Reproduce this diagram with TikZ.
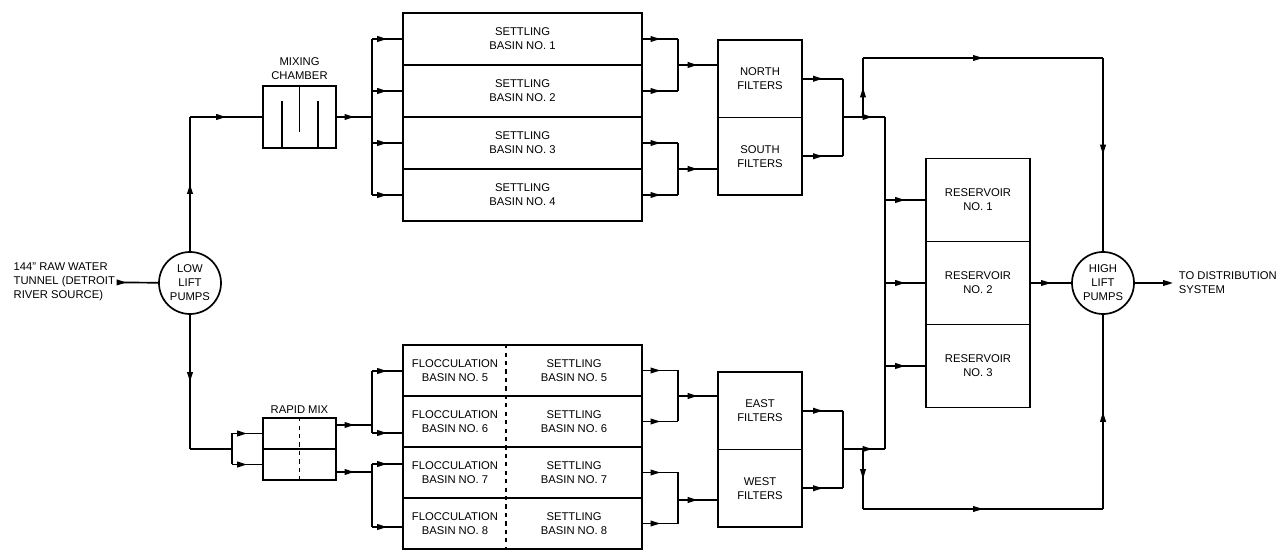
\documentclass[tikz,border=0pt]{standalone}
\usepackage{fontspec}
\setmainfont{Liberation Sans}
\usetikzlibrary{positioning, arrows.meta, decorations.markings, calc}

\begin{document}
\begin{tikzpicture}[
        x=0.025cm, y=-0.025cm,
        line width=1.2pt,
        font=\fontsize{8}{10}\selectfont,
        basin/.style={
            draw, minimum width=5.975cm, minimum height=1.3cm,
            inner sep=0pt, align=center
        },
        filt/.style={
            draw, minimum width=2.1cm, minimum height=1.9375cm,
            inner sep=0pt, align=center
        },
        resv/.style={
            draw, minimum width=2.6cm, minimum height=2.075cm,
            inner sep=0pt, align=center
        },
        pump/.style={
            draw, circle, minimum size=1.55cm, inner sep=0pt, align=center
        },
        mixbox/.style={draw, minimum width=1.825cm, minimum height=1.55cm},
        rapid/.style={draw, minimum width=1.825cm, minimum height=0.775cm},
        lbl/.style={align=center, inner sep=1pt},
        flow/.style={postaction={decorate, decoration={markings,
            mark=at position #1 with {\arrow{Triangle[length=7pt, width=4pt]}}}}},
        flow/.default=0.5
    ]
    \useasboundingbox (0,0) rectangle (1278,550);

    % pumps and source
    \node[pump] (lowpump) at (190,283) {LOW\\LIFT\\PUMPS};
    \node[pump] (highpump) at (1103,283) {HIGH\\LIFT\\PUMPS};
    \node[align=left, anchor=west, inner sep=2pt] (src) at (10,282) {144'' RAW WATER\\TUNNEL (DETROIT\\RIVER SOURCE)};
    \node[align=left, anchor=west, inner sep=0pt] (dist) at (1178,283) {TO DISTRIBUTION\\SYSTEM};

    % mixing
    \node[mixbox] (mix) at (299.5,117) {};
    \node[lbl, above=2pt of mix] (mixlbl) {MIXING\\CHAMBER};
    \draw (mix.south) ++(-17.5,0) -- ++(0,-48);
    \draw (mix.south) ++(18.5,0) -- ++(0,-48);
    \draw (mix.north) -- ++(0,47);
    \node[rapid] (rm1) at (299.5,433.5) {};
    \node[rapid] (rm2) at (299.5,464.5) {};
    \node[lbl, above=1pt of rm1] (rmlbl) {RAPID MIX};
    \draw[dashed] (rm1.north) -- (rm2.south);

    % basins
    \foreach \i in {1,...,4}
        \node[basin] (sb\i) at (522.5,{39+52*(\i-1)}) {SETTLING\\BASIN NO. \i};
    \foreach \i in {5,...,8} {
        \node[basin, minimum height=1.275cm] (sb\i) at (522.5,{370.5+51*(\i-5)}) {};
        \node[lbl] (fl\i) at (455,{370.5+51*(\i-5)}) {FLOCCULATION\\BASIN NO. \i};
        \node[lbl] (st\i) at (574,{370.5+51*(\i-5)}) {SETTLING\\BASIN NO. \i};
    }
    \draw[dashed] ($(sb5.north west)+(104,0)$) -- ($(sb8.south west)+(104,0)$);

    % filters and reservoirs
    \node[filt] (north) at (760,78.75) {NORTH\\FILTERS};
    \node[filt] (south) at (760,156.25) {SOUTH\\FILTERS};
    \node[filt] (east) at (760,410.75) {EAST\\FILTERS};
    \node[filt] (west) at (760,488.25) {WEST\\FILTERS};
    \node[resv] (res1) at (978,200) {RESERVOIR\\NO. 1};
    \node[resv] (res2) at (978,283) {RESERVOIR\\NO. 2};
    \node[resv] (res3) at (978,366) {RESERVOIR\\NO. 3};

    % junctions
    \coordinate (jup) at (190,117);
    \coordinate (jdn) at (190,449);
    \coordinate (busA) at (372,117);
    \coordinate (busR) at (232,449);
    \coordinate (busU) at (372,425);
    \coordinate (busD) at (372,472);
    \coordinate (b5) at (372,371);
    \coordinate (b6) at (372,433);
    \coordinate (b7) at (372,464);
    \coordinate (b8) at (372,527);
    \coordinate (mN) at (678,65);
    \coordinate (mS) at (678,169);
    \coordinate (mE) at (678,396);
    \coordinate (mW) at (678,500);
    \coordinate (oN) at (843,117);
    \coordinate (oE) at (843,449);
    \coordinate (busT) at (885,117);
    \coordinate (busB) at (885,449);
    \coordinate (tU) at (863,117);
    \coordinate (tL) at (863,58);
    \coordinate (tR) at (1103,58);
    \coordinate (bU) at (863,449);
    \coordinate (bL) at (863,509);
    \coordinate (bR) at (1103,509);
    \coordinate (out) at (1173,283);

    % raw water in
    \draw[flow=0.2] (src) -- (lowpump);
    \draw[flow] (lowpump) -- (jup);
    \draw[flow] (jup) -- (mix);
    \draw[flow] (lowpump) -- (jdn);
    \draw (jdn) -- (busR);

    % north side
    \draw[flow] (mix) -- (busA);
    \draw (busA |- sb1) -- (busA |- sb4);
    \foreach \i in {1,...,4}
        \draw[flow] (busA |- sb\i) -- (sb\i);
    \foreach \a/\b/\m/\f in {sb1/sb2/mN/north, sb3/sb4/mS/south} {
        \draw[flow] (\a.east) -- (\a.east -| \m);
        \draw[flow] (\b.east) -- (\b.east -| \m);
        \draw (\a.east -| \m) -- (\b.east -| \m);
        \draw[flow] (\m) -- (\m -| \f.west);
    }
    \draw[flow] (north.east) -- (north.east -| oN);
    \draw[flow] (south.east) -- (south.east -| oN);
    \draw (north.east -| oN) -- (south.east -| oN);
    \draw[flow=0.7] (oN) -- (busT);

    % south side
    \draw (busR |- rm1) -- (busR |- rm2);
    \draw[flow] (busR |- rm1) -- (rm1);
    \draw[flow] (busR |- rm2) -- (rm2);
    \draw[flow] (rm1.east |- busU) -- (busU);
    \draw[flow] (rm2.east |- busD) -- (busD);
    \draw (b5) -- (b6);
    \draw (b7) -- (b8);
    \foreach \i in {5,...,8}
        \draw[flow] (b\i) -- (b\i -| sb\i.west);
    \foreach \a/\b/\m/\f in {sb5/sb6/mE/east, sb7/sb8/mW/west} {
        \draw[flow] (\a.east) -- (\a.east -| \m);
        \draw[flow] (\b.east) -- (\b.east -| \m);
        \draw (\a.east -| \m) -- (\b.east -| \m);
        \draw[flow] (\m) -- (\m -| \f.west);
    }
    \draw[flow] (east.east) -- (east.east -| oE);
    \draw[flow] (west.east) -- (west.east -| oE);
    \draw (east.east -| oE) -- (west.east -| oE);
    \draw[flow=0.7] (oE) -- (busB);

    % reservoirs and high lift
    \draw (busT) -- (busB);
    \foreach \r in {res1, res2, res3}
        \draw[flow] (busT |- \r) -- (\r);
    \draw[flow] (res2) -- (highpump);
    \draw[-{Triangle[length=7pt, width=4pt]}] (highpump) -- (out);

    % bypass lines
    \draw[flow] (tU) -- (tL);
    \draw[flow] (tL) -- (tR);
    \draw[flow] (tR) -- (highpump);
    \draw[flow] (bU) -- (bL);
    \draw[flow] (bL) -- (bR);
    \draw[flow] (bR) -- (highpump);
\end{tikzpicture}
\end{document}
